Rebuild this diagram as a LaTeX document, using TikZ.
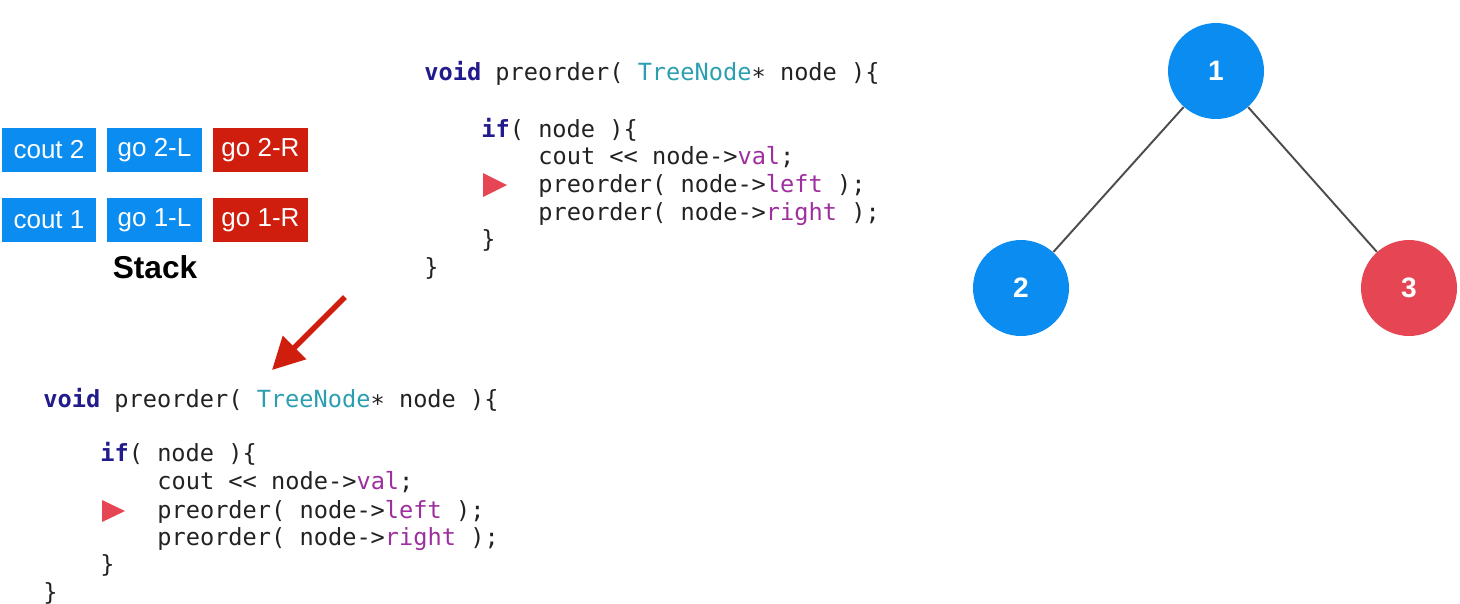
\documentclass[tikz,border=0pt]{standalone}
\usepackage{fontspec}
\setsansfont{Liberation Sans}
\setmonofont{DejaVu Sans Mono}
\usetikzlibrary{arrows.meta}
\definecolor{boxblue}{HTML}{0A8CF0}
\definecolor{boxred}{HTML}{D01E0E}
\definecolor{nodered}{HTML}{E64553}
\definecolor{kwcol}{HTML}{221B8C}
\definecolor{tycol}{HTML}{2B9FB0}
\definecolor{fdcol}{HTML}{9E2F9E}
\definecolor{txtcol}{HTML}{222222}
\newcommand{\kw}[1]{\textbf{\textcolor{kwcol}{#1}}}
\newcommand{\ty}[1]{\textcolor{tycol}{#1}}
\newcommand{\fd}[1]{\textcolor{fdcol}{#1}}
\tikzset{
  stackbox/.style={fill=#1,text=white,minimum width=1.9cm,minimum height=0.88cm,
    inner sep=0pt,font=\sffamily\fontsize{14.8}{16}\selectfont},
  codeline/.style={anchor=base west,inner sep=0pt,text=txtcol,
    font=\ttfamily\fontsize{13.45}{16}\selectfont},
  treenode/.style={circle,fill=#1,text=white,minimum size=1.92cm,inner sep=0pt,
    font=\sffamily\bfseries\fontsize{16}{18}\selectfont},
  pointer/.style={fill=nodered}
}
\begin{document}
\begin{tikzpicture}[x=0.02cm,y=-0.02cm]
\useasboundingbox (0,0) rectangle (1460,603);
% stack
\node[stackbox=boxblue] (c2) at (49,150) {cout 2};
\node[stackbox=boxblue] (gl2) at (154.5,150) {go 2-L};
\node[stackbox=boxred] (gr2) at (260.5,150) {go 2-R};
\node[stackbox=boxblue] (c1) at (49,220) {cout 1};
\node[stackbox=boxblue] (gl1) at (154.5,220) {go 1-L};
\node[stackbox=boxred] (gr1) at (260.5,220) {go 1-R};
\node[font=\sffamily\bfseries\fontsize{18}{20}\selectfont] (stk) at (155,267) {Stack};
% upper code
\node[codeline] (a0) at (424,80) {\kw{void} preorder( \ty{TreeNode}∗ node )\{};
\node[codeline] (a1) at (481,137) {\kw{if}( node )\{};
\node[codeline] (a2) at (538,164) {cout << node->\fd{val};};
\node[codeline] (a3) at (538,192) {preorder( node->\fd{left} );};
\node[codeline] (a4) at (538,220) {preorder( node->\fd{right} );};
\node[codeline] (a5) at (481,247) {\}};
\node[codeline] (a6) at (424,275) {\}};
\fill[pointer] (483,173) -- (507,185) -- (483,197) -- cycle;
% lower code
\node[codeline] (b0) at (43,407) {\kw{void} preorder( \ty{TreeNode}∗ node )\{};
\node[codeline] (b1) at (100,461) {\kw{if}( node )\{};
\node[codeline] (b2) at (157,489) {cout << node->\fd{val};};
\node[codeline] (b3) at (157,518) {preorder( node->\fd{left} );};
\node[codeline] (b4) at (157,545) {preorder( node->\fd{right} );};
\node[codeline] (b5) at (100,572) {\}};
\node[codeline] (b6) at (43,600) {\}};
\fill[pointer] (102,500) -- (125,511) -- (102,522) -- cycle;
% call arrow
\coordinate (arrS) at (345,297);
\coordinate (arrE) at (272,370);
\draw[boxred,line width=3.2pt,-{Triangle[length=0.64cm,width=0.64cm]}] (arrS) -- (arrE);
% tree
\node[treenode=boxblue] (n1) at (1216,71) {1};
\node[treenode=boxblue] (n2) at (1021,288) {2};
\node[treenode=nodered] (n3) at (1409,288) {3};
\draw[black!70,line width=1.1pt] (n1) -- (n2);
\draw[black!70,line width=1.1pt] (n1) -- (n3);
\end{tikzpicture}
\end{document}
